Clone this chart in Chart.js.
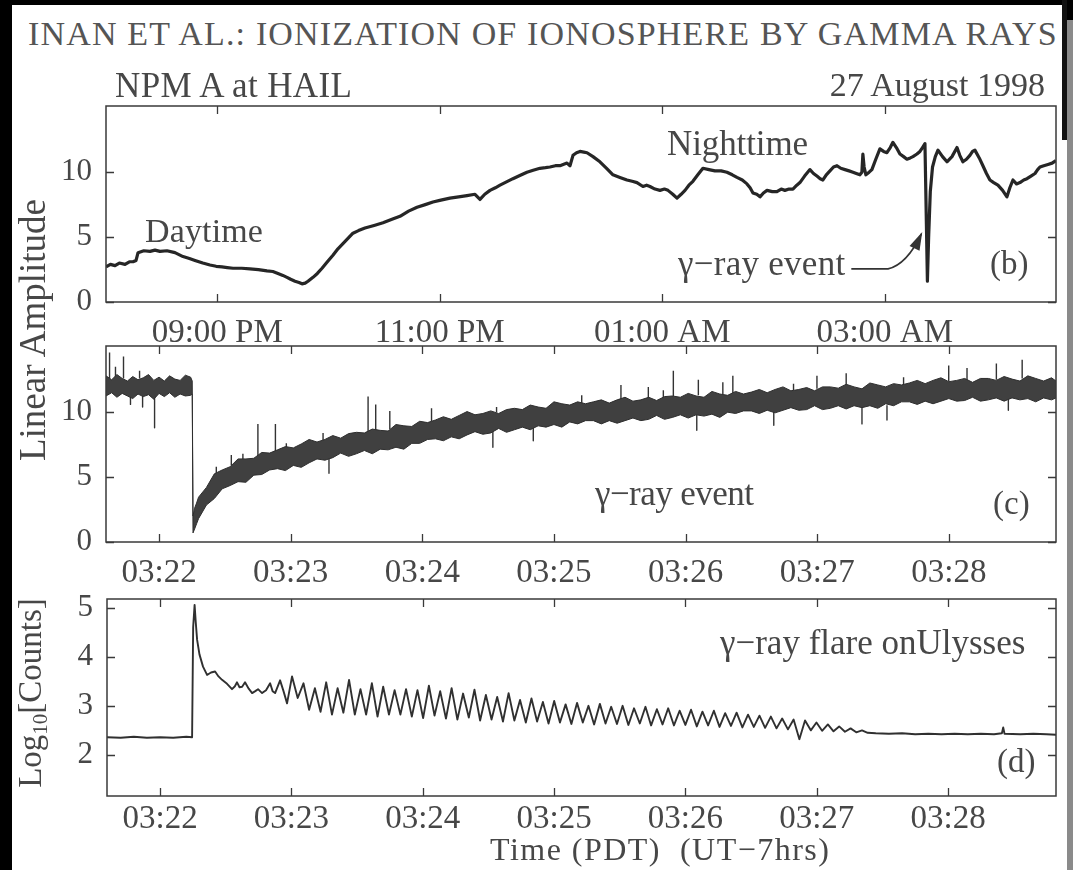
<!DOCTYPE html>
<html><head><meta charset="utf-8">
<script src="https://cdn.jsdelivr.net/npm/chart.js@4.4.1/dist/chart.umd.min.js"></script>
<style>
html,body{margin:0;padding:0;background:#fff;}
body{width:1073px;height:870px;position:relative;overflow:hidden;font-family:"Liberation Serif","DejaVu Serif",serif;color:#474747;}
canvas{position:absolute;left:0;}
.t{position:absolute;white-space:nowrap;line-height:1;}
.edge{position:absolute;}
</style></head><body>

<canvas id="cb" width="1073" height="260" style="top:95px"></canvas>
<canvas id="cc" width="1073" height="266" style="top:336px"></canvas>
<canvas id="cd" width="1073" height="282" style="top:588px"></canvas>

<div class="t" data-w="1030" style="left:28px;top:17px;font-size:34px;color:#555">INAN ET AL.: IONIZATION OF IONOSPHERE BY GAMMA RAYS</div>
<div class="t" data-w="237" style="left:115px;top:68px;font-size:35px">NPM A at HAIL</div>
<div class="t" style="right:28px;top:68px;font-size:34px">27 August 1998</div>

<div class="t" data-w="118" style="left:145px;top:214px;font-size:34px">Daytime</div>
<div class="t" data-w="141" style="left:667px;top:126px;font-size:35px">Nighttime</div>
<div class="t" data-w="167" style="left:678px;top:246px;font-size:35px">γ−ray event</div>
<div class="t" style="left:990px;top:247px;font-size:33px">(b)</div>

<div class="t" data-w="158" style="left:595px;top:476px;font-size:35px">γ−ray event</div>
<div class="t" style="left:993px;top:487px;font-size:33px">(c)</div>

<div class="t" data-w="305" style="left:720px;top:625px;font-size:35px">γ−ray flare onUlysses</div>
<div class="t" style="left:997px;top:745px;font-size:33px">(d)</div>

<div class="t" data-w="340" style="left:490px;top:833px;font-size:32px">Time (PDT)&nbsp; (UT−7hrs)</div>

<div class="t" style="left:32px;top:330px;font-size:37px;transform:translate(-50%,-50%) rotate(-90deg)">Linear Amplitude</div>
<div class="t" style="left:32px;top:693px;font-size:33px;transform:translate(-50%,-50%) rotate(-90deg)">Log<sub style="font-size:21px;vertical-align:-6px">10</sub>[Counts]</div>

<div class="edge" style="left:0;top:0;width:12px;height:870px;background:#000"></div>
<div class="edge" style="left:0;top:0;width:1073px;height:5px;background:#000"></div>
<div class="edge" style="left:1062px;top:0;width:11px;height:20px;background:#000"></div>
<div class="edge" style="left:1062px;top:0;width:5px;height:140px;background:#111"></div>
<div class="edge" style="left:1067px;top:20px;width:6px;height:850px;background:#8a8a8a"></div>

<script>
// ---------- Panel (b): NPM amplitude over the night (hours; values above 24 are after midnight)
const bTime = [20.000,20.040,20.081,20.120,20.171,20.210,20.243,20.270,20.288,20.340,
  20.396,20.440,20.485,20.548,20.620,20.692,20.750,20.800,20.870,20.935,
  20.990,21.043,21.090,21.142,21.220,21.294,21.370,21.447,21.500,21.546,
  21.590,21.627,21.660,21.699,21.735,21.762,21.790,21.816,21.861,21.900,
  21.942,21.990,22.040,22.085,22.130,22.175,22.220,22.270,22.328,22.410,
  22.490,22.565,22.643,22.720,22.796,22.870,22.939,23.010,23.092,23.170,
  23.245,23.317,23.362,23.405,23.452,23.500,23.542,23.600,23.658,23.720,
  23.784,23.840,23.901,23.950,23.991,24.040,24.081,24.144,24.171,24.198,
  24.230,24.261,24.295,24.324,24.378,24.440,24.500,24.557,24.620,24.683,
  24.730,24.773,24.827,24.860,24.890,24.935,24.980,25.020,25.052,25.095,
  25.133,25.170,25.205,25.240,25.276,25.320,25.366,25.420,25.474,25.530,
  25.582,25.630,25.672,25.720,25.762,25.790,25.816,25.850,25.879,25.910,
  25.942,25.990,26.031,26.070,26.103,26.140,26.175,26.210,26.238,26.280,
  26.328,26.360,26.391,26.420,26.445,26.475,26.508,26.540,26.571,26.605,
  26.643,26.680,26.715,26.745,26.777,26.795,26.804,26.815,26.831,26.860,
  26.885,26.920,26.957,26.990,27.020,27.050,27.074,27.105,27.137,27.170,
  27.200,27.230,27.254,27.290,27.317,27.340,27.362,27.375,27.384,27.395,
  27.410,27.430,27.455,27.479,27.520,27.560,27.605,27.650,27.675,27.703,
  27.735,27.766,27.790,27.811,27.850,27.883,27.915,27.946,27.980,28.018,
  28.060,28.099,28.125,28.153,28.185,28.216,28.250,28.279,28.315,28.351,
  28.375,28.396,28.430,28.468,28.505,28.539];
const bAmp = [2.7,2.9,2.8,3.0,2.9,3.1,3.1,3.2,3.8,3.95,
  3.9,4.0,3.9,3.95,3.8,3.5,3.35,3.2,3.0,2.85,
  2.75,2.7,2.65,2.6,2.6,2.55,2.5,2.4,2.35,2.2,
  2.05,1.9,1.75,1.6,1.5,1.4,1.45,1.6,1.9,2.2,
  2.6,3.1,3.6,4.1,4.5,4.9,5.3,5.5,5.7,5.9,
  6.1,6.35,6.6,7.0,7.3,7.5,7.7,7.85,8.0,8.1,
  8.2,8.3,7.9,8.3,8.6,8.8,9.0,9.25,9.5,9.75,
  10.0,10.15,10.3,10.35,10.4,10.5,10.5,10.7,10.5,11.3,
  11.5,11.6,11.55,11.5,11.2,10.8,10.3,9.8,9.6,9.4,
  9.3,9.2,8.9,9.0,8.9,8.7,8.6,8.7,8.6,8.3,
  8.0,8.3,8.6,9.0,9.3,9.8,10.3,10.2,10.1,10.1,
  10.0,9.8,9.6,9.4,9.1,8.8,8.4,8.3,8.1,8.4,
  8.6,8.5,8.5,8.7,8.6,8.7,8.7,9.0,9.2,9.7,
  10.2,9.9,9.7,9.5,9.4,9.8,10.1,10.4,10.5,10.3,
  10.2,10.1,10.0,9.9,9.8,10.0,11.4,10.4,9.8,10.0,
  10.2,11.0,11.8,11.6,11.5,11.9,12.3,11.9,11.4,11.2,
  11.0,11.1,11.2,11.4,11.6,11.9,12.2,6.0,1.6,5.0,
  8.5,10.4,11.2,11.7,11.2,10.8,11.2,11.9,11.3,10.8,
  11.0,11.3,11.6,11.7,11.1,10.5,9.9,9.4,9.2,9.0,
  8.6,8.1,8.8,9.4,9.1,9.2,9.4,9.5,9.7,9.9,
  10.2,10.4,10.5,10.6,10.7,10.9];
const bTickValues = [21, 23, 25, 27];
const bTickLabels = ['09:00 PM', '11:00 PM', '01:00 AM', '03:00 AM'];
const ampTicks = [0, 5, 10];

// ---------- Panel (c): amplitude during the event (minutes after 03:00), noisy band upper/lower envelope
const cTime = [21.597,21.64,21.68,21.72,21.76,21.80,21.84,21.88,21.92,21.96,
  22.00,22.04,22.08,22.12,22.16,22.20,22.24,22.252,22.258,22.27,22.285,
  22.30,22.36,22.42,22.48,22.54,22.60,22.66,22.72,22.78,22.84,
  22.90,22.96,23.02,23.08,23.14,23.20,23.26,23.32,23.38,23.44,
  23.50,23.56,23.62,23.68,23.74,23.80,23.86,23.92,23.98,24.04,
  24.10,24.16,24.22,24.28,24.34,24.40,24.46,24.52,24.58,24.64,
  24.70,24.76,24.82,24.88,24.94,25.00,25.06,25.12,25.18,25.24,
  25.30,25.36,25.42,25.48,25.54,25.60,25.66,25.72,25.78,25.84,
  25.90,25.96,26.02,26.08,26.14,26.20,26.26,26.32,26.38,26.44,
  26.50,26.56,26.62,26.68,26.74,26.80,26.86,26.92,26.98,27.04,
  27.10,27.16,27.22,27.28,27.34,27.40,27.46,27.52,27.58,27.64,
  27.70,27.76,27.82,27.88,27.94,28.00,28.06,28.12,28.18,28.24,
  28.30,28.36,28.42,28.48,28.54,28.60,28.66,28.72,28.78,28.814];
const cUpper = [12.8,12.5,12.9,12.6,12.4,12.75,12.5,12.65,12.9,12.45,
  12.7,12.4,12.8,12.55,12.45,12.85,12.7,12.4,2.0,2.6,3.0,
  3.45,4.2,5.25,5.55,5.8,6.4,6.4,6.45,6.9,6.85,
  7.1,7.35,7.25,7.55,7.9,7.7,7.9,8.2,8.0,8.35,
  8.45,8.4,8.7,8.6,8.55,9.05,8.95,8.9,9.3,9.2,
  9.4,9.65,9.45,9.75,10.05,9.8,9.9,10.1,9.9,10.2,
  10.3,10.2,10.55,10.4,10.3,10.8,10.65,10.55,10.8,10.65,
  10.8,10.95,10.7,10.95,11.15,10.85,10.95,11.15,10.9,11.2,
  11.25,11.15,11.45,11.25,11.15,11.6,11.4,11.3,11.6,11.4,
  11.55,11.75,11.5,11.75,11.95,11.65,11.75,11.9,11.65,11.95,
  11.95,11.85,12.15,11.95,11.8,12.25,12.1,11.95,12.2,12.1,
  12.25,12.45,12.2,12.45,12.65,12.35,12.45,12.6,12.3,12.6,
  12.6,12.45,12.75,12.55,12.4,12.8,12.6,12.4,12.65,12.4];
const cLower = [11.25,11.5,11.15,11.45,11.25,11.05,11.4,11.2,11.35,11.0,
  11.45,11.2,11.5,11.15,11.4,11.25,11.3,11.4,0.7,1.0,1.4,
  1.8,2.85,3.35,4.1,4.35,4.65,4.6,5.15,5.2,5.55,
  5.65,5.5,5.9,5.75,6.1,6.4,6.3,6.5,6.85,6.6,
  6.8,7.05,6.8,7.15,7.1,7.3,7.15,7.6,7.6,7.9,
  7.95,7.8,8.1,7.95,8.25,8.5,8.3,8.4,8.75,8.45,
  8.65,8.85,8.65,8.95,8.85,9.05,8.85,9.25,9.1,9.35,
  9.35,9.1,9.35,9.15,9.35,9.55,9.35,9.45,9.75,9.45,
  9.6,9.8,9.55,9.8,9.7,9.85,9.6,10.0,9.9,10.1,
  10.1,9.9,10.15,9.95,10.15,10.35,10.15,10.2,10.5,10.2,
  10.3,10.5,10.25,10.5,10.35,10.5,10.3,10.65,10.5,10.8,
  10.8,10.6,10.85,10.65,10.85,11.05,10.85,10.9,11.15,10.85,
  10.95,11.1,10.85,11.1,10.95,11.05,10.8,11.1,10.95,11.1];
const cSpikeTime = [21.624,21.669,21.730,21.783,21.852,21.875,21.966,22.435,22.549,22.637,
  22.751,22.884,22.967,23.246,23.291,23.588,23.646,23.753,24.070,24.536,
  24.564,24.843,25.211,25.509,25.717,25.831,25.907,26.085,26.097,26.283,
  26.359,26.670,26.820,26.998,27.220,27.340,27.530,27.656,27.999,28.138,
  28.361,28.452,28.557];
const cSpikeBase = [12.6,12.6,12.6,11.3,12.6,11.3,11.3,4.5,5.9,6.1,
  6.6,6.9,7.1,7.8,6.6,8.5,8.5,8.7,9.3,8.5,
  10.0,8.8,10.7,10.9,11.0,11.1,11.2,9.8,11.3,11.4,
  11.4,10.0,11.7,11.8,11.9,10.4,10.5,12.1,12.4,12.4,
  12.5,11.0,12.6];
const cSpikeTip = [14.6,13.5,14.3,10.6,13.2,10.4,8.8,5.8,6.7,6.8,
  9.1,9.1,7.6,8.4,5.3,11.2,10.6,10.1,10.3,7.3,
  10.4,7.8,11.3,12.1,11.95,11.7,13.2,8.6,12.5,12.3,
  12.8,9.0,12.2,12.8,13.0,9.1,9.4,12.7,13.6,13.4,
  13.75,10.15,14.05];
const cTickValues = [22, 23, 24, 25, 26, 27, 28];
const cTickLabels = ['03:22', '03:23', '03:24', '03:25', '03:26', '03:27', '03:28'];

// ---------- Panel (d): Ulysses gamma-ray counts (log10)
const dTime = [21.596,21.70,21.80,21.90,22.00,22.10,22.20,22.244,22.252,22.263,
  22.272,22.282,22.300,22.327,22.358,22.388,22.419,22.445,22.472,22.510,
  22.548,22.570,22.586,22.605,22.625,22.647,22.675,22.701,22.725,22.746,
  22.777,22.807,22.838,22.857,22.876,22.914,22.940,22.967,
  23.005,23.048,23.092,23.135,23.179,23.222,23.265,23.309,23.352,23.396,
  23.439,23.483,23.526,23.569,23.613,23.656,23.699,23.743,23.786,23.830,
  23.873,23.917,23.960,24.003,24.047,24.090,24.133,24.177,24.220,24.264,
  24.307,24.351,24.394,24.437,24.481,24.524,24.567,24.611,24.654,24.698,
  24.741,24.785,24.828,24.871,24.915,24.958,25.001,25.045,25.088,25.132,
  25.175,25.219,25.262,25.305,25.349,25.392,25.435,25.479,25.522,25.566,
  25.609,25.653,25.696,25.739,25.783,25.826,25.869,25.913,25.956,26.000,
  26.043,26.087,26.130,26.173,26.217,26.260,26.303,26.347,26.390,26.434,
  26.477,26.521,26.564,26.607,26.651,26.694,26.737,26.781,26.824,26.868,
  26.911,26.955,26.998,27.041,27.085,27.128,27.171,27.215,27.258,27.301,
  27.345,27.388,
  27.45,27.55,27.65,27.75,27.85,27.95,28.05,28.15,28.25,28.35,
  28.41,28.42,28.43,28.55,28.65,28.75,28.822];
const dLog = [2.36,2.35,2.37,2.35,2.36,2.35,2.37,2.36,4.60,5.06,
  4.70,4.35,4.05,3.80,3.63,3.68,3.70,3.60,3.53,3.45,
  3.34,3.40,3.48,3.38,3.39,3.48,3.35,3.26,3.30,3.34,
  3.26,3.32,3.46,3.30,3.26,3.52,3.30,3.05,
  3.60,3.16,3.46,2.92,3.36,2.88,3.48,2.82,3.36,2.86,
  3.53,2.82,3.34,2.82,3.46,2.78,3.39,2.82,3.32,2.82,
  3.34,2.78,3.32,2.75,3.41,2.80,3.30,2.74,3.36,2.72,
  3.25,2.76,3.33,2.70,3.22,2.72,3.18,2.68,3.26,2.70,
  3.12,2.66,3.15,2.68,3.08,2.64,3.10,2.66,3.03,2.63,
  3.06,2.66,3.00,2.62,3.04,2.64,2.98,2.63,3.00,2.61,
  2.95,2.64,2.98,2.60,2.93,2.62,2.95,2.60,2.90,2.61,
  2.92,2.58,2.88,2.60,2.90,2.57,2.85,2.59,2.86,2.56,
  2.82,2.57,2.80,2.55,2.78,2.54,2.74,2.52,2.72,2.32,
  2.70,2.50,2.66,2.49,2.62,2.48,2.58,2.47,2.54,2.46,
  2.50,2.45,
  2.44,2.43,2.44,2.42,2.43,2.42,2.43,2.42,2.43,2.42,
  2.44,2.56,2.43,2.42,2.43,2.42,2.41];
const logTicks = [2, 3, 4, 5];

// ---------- annotation anchor (data coordinates in panel b)
const bArrow = { from: [26.70, 2.55], bend: [27.03, 2.55], ctrl: [27.20, 2.9], tip: [27.33, 5.25] };

const INK = '#474747';
const TICKFONT = { family: 'Liberation Serif', size: 33 };

const frameTicks = {
  id: 'frameTicks',
  afterDraw(chart) {
    const { ctx, chartArea: { left, right, top, bottom }, scales: { x, y } } = chart;
    const L = 8;
    ctx.save();
    ctx.strokeStyle = '#3a3a3a';
    ctx.lineWidth = 1.5;
    ctx.strokeRect(left, top, right - left, bottom - top);
    ctx.lineWidth = 1.3;
    ctx.beginPath();
    x.ticks.forEach(t => {
      const px = Math.round(x.getPixelForValue(t.value)) + 0.5;
      ctx.moveTo(px, bottom); ctx.lineTo(px, bottom - L);
      ctx.moveTo(px, top); ctx.lineTo(px, top + L);
    });
    y.ticks.forEach(t => {
      const py = Math.round(y.getPixelForValue(t.value)) + 0.5;
      ctx.moveTo(left, py); ctx.lineTo(left + L, py);
      ctx.moveTo(right, py); ctx.lineTo(right - L, py);
    });
    ctx.stroke();
    ctx.restore();
  }
};

const arrowPlugin = {
  id: 'arrow',
  afterDatasetsDraw(chart) {
    if (chart.canvas.id !== 'cb') return;
    const { ctx, scales: { x, y } } = chart;
    const p = a => [x.getPixelForValue(a[0]), y.getPixelForValue(a[1])];
    const [x0, y0] = p(bArrow.from), [x1, y1] = p(bArrow.bend), [cx, cy] = p(bArrow.ctrl), [x2, y2] = p(bArrow.tip);
    ctx.save();
    ctx.strokeStyle = '#333'; ctx.fillStyle = '#333'; ctx.lineWidth = 1.7;
    ctx.beginPath(); ctx.moveTo(x0, y0); ctx.lineTo(x1, y1); ctx.quadraticCurveTo(cx, cy, x2, y2); ctx.stroke();
    const ang = Math.atan2(y2 - cy, x2 - cx);
    const HL = 16, HW = 5.5;
    const bx = x2 - HL * Math.cos(ang), by = y2 - HL * Math.sin(ang);
    ctx.beginPath();
    ctx.moveTo(x2 + 2 * Math.cos(ang), y2 + 2 * Math.sin(ang));
    ctx.lineTo(bx + HW * Math.sin(ang), by - HW * Math.cos(ang));
    ctx.lineTo(bx - HW * Math.sin(ang), by + HW * Math.cos(ang));
    ctx.closePath(); ctx.fill();
    ctx.restore();
  }
};

function makeOptions(o) {
  return {
    responsive: false,
    animation: false,
    devicePixelRatio: 1,
    events: [],
    layout: { padding: { top: o.padTop, right: 17, left: 0, bottom: 0 } },
    plugins: { legend: { display: false }, tooltip: { enabled: false }, title: { display: false } },
    elements: { point: { radius: 0 }, line: { tension: 0, borderJoinStyle: 'round' } },
    scales: {
      x: {
        type: 'linear', min: o.xMin, max: o.xMax,
        grid: { display: false }, border: { display: false },
        afterBuildTicks: s => { s.ticks = o.xTicks.map(v => ({ value: v })); },
        afterFit: s => { s.height = o.xH; s.paddingLeft = 0; s.paddingRight = 0; },
        ticks: {
          autoSkip: false, maxRotation: 0, padding: o.xPad, color: INK, font: TICKFONT,
          callback: v => { const i = o.xTicks.indexOf(v); return i >= 0 ? o.xLabels[i] : ''; }
        }
      },
      y: {
        type: 'linear', min: o.yMin, max: o.yMax,
        grid: { display: false }, border: { display: false },
        afterBuildTicks: s => { s.ticks = o.yTicks.map(v => ({ value: v })); },
        afterFit: s => { s.width = o.yW; s.paddingTop = 0; s.paddingBottom = 0; },
        ticks: { autoSkip: false, padding: 6, color: INK, font: { family: 'Liberation Serif', size: 31 }, callback: v => String(v) }
      }
    }
  };
}

const pts = (xs, ys) => xs.map((t, i) => ({ x: t, y: ys[i] }));

new Chart(document.getElementById('cb'), {
  type: 'line',
  data: { datasets: [{ data: pts(bTime, bAmp), borderColor: '#262626', borderWidth: 3.2, fill: false }] },
  options: makeOptions({ padTop: 11, xMin: 20, xMax: 28.54, xTicks: bTickValues, xLabels: bTickLabels, xH: 53, xPad: 4,
    yMin: 0, yMax: 15.1, yTicks: ampTicks, yW: 106 }),
  plugins: [frameTicks, arrowPlugin]
});

const spikePts = [];
cSpikeTime.forEach((t, i) => {
  spikePts.push({ x: t, y: cSpikeBase[i] }, { x: t, y: cSpikeTip[i] }, { x: t, y: null });
});

new Chart(document.getElementById('cc'), {
  type: 'line',
  data: { datasets: [
    { data: pts(cTime, cLower), borderColor: '#2e2e2e', borderWidth: 1, fill: false },
    { data: pts(cTime, cUpper), borderColor: '#2e2e2e', borderWidth: 1, fill: '-1', backgroundColor: '#404040' },
    { data: spikePts, borderColor: '#333', borderWidth: 1.4, fill: false, spanGaps: false }
  ] },
  options: makeOptions({ padTop: 10, xMin: 21.597, xMax: 28.814, xTicks: cTickValues, xLabels: cTickLabels, xH: 60, xPad: 4,
    yMin: 0, yMax: 15.1, yTicks: ampTicks, yW: 106 }),
  plugins: [frameTicks]
});

new Chart(document.getElementById('cd'), {
  type: 'line',
  data: { datasets: [{ data: pts(dTime, dLog), borderColor: '#303030', borderWidth: 1.9, fill: false }] },
  options: makeOptions({ padTop: 11, xMin: 21.596, xMax: 28.822, xTicks: cTickValues, xLabels: cTickLabels, xH: 74, xPad: -4,
    yMin: 1.16, yMax: 5.18, yTicks: logTicks, yW: 107 }),
  plugins: [frameTicks]
});

function fitTexts() {
  document.querySelectorAll('[data-w]').forEach(el => {
    el.style.letterSpacing = '0px';
    const w = +el.dataset.w, n = el.textContent.length;
    let ls = (w - el.offsetWidth) / n;
    ls = Math.max(-3, Math.min(8, ls));
    el.style.letterSpacing = ls.toFixed(2) + 'px';
  });
}
fitTexts();
if (document.fonts && document.fonts.ready) document.fonts.ready.then(fitTexts);
</script>
</body></html>
